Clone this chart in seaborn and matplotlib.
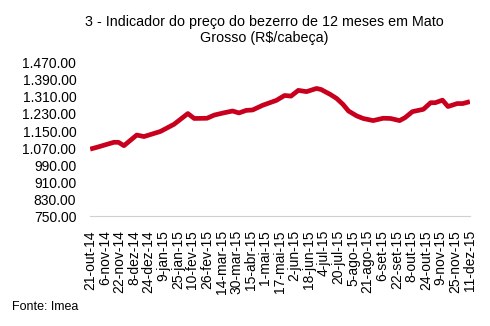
import matplotlib
matplotlib.use("Agg")
import matplotlib.pyplot as plt
import matplotlib.ticker as mticker
import seaborn as sns
import pandas as pd

# Days since 21-out-14 and price (R$/cabeça)
days = [0, 7, 26, 31, 37, 51, 59, 77, 92, 107, 114, 128, 136, 147, 156, 163,
        171, 178, 189, 204, 213, 220, 228, 237, 248, 253, 263, 270, 277, 283,
        292, 299, 310, 321, 329, 339, 345, 353, 365, 373, 378, 386, 392, 402,
        408, 416]
prices = [1065, 1073, 1097, 1097, 1081, 1131, 1124, 1148, 1182, 1232, 1209,
          1210, 1225, 1236, 1244, 1235, 1247, 1249, 1271, 1294, 1317, 1314,
          1341, 1335, 1350, 1345, 1322, 1303, 1275, 1244, 1221, 1209, 1199,
          1210, 1209, 1199, 1213, 1241, 1252, 1283, 1283, 1295, 1265, 1279,
          1279, 1288]

tick_labels = ["21-out-14", "6-nov-14", "22-nov-14", "8-dez-14", "24-dez-14",
               "9-jan-15", "25-jan-15", "10-fev-15", "26-fev-15", "14-mar-15",
               "30-mar-15", "15-abr-15", "1-mai-15", "17-mai-15", "2-jun-15",
               "18-jun-15", "4-jul-15", "20-jul-15", "5-ago-15", "21-ago-15",
               "6-set-15", "22-set-15", "8-out-15", "24-out-15", "9-nov-15",
               "25-nov-15", "11-dez-15"]
tick_step = 16
y_ticks = [750, 830, 910, 990, 1070, 1150, 1230, 1310, 1390, 1470]

title = "3 - Indicador do preço do bezerro de 12 meses em Mato\nGrosso (R$/cabeça)"
source = "Fonte: Imea"

df = pd.DataFrame({"dia": days, "preco": prices})

sns.set_theme(style="white")
plt.rcParams["font.family"] = ["Liberation Sans", "DejaVu Sans"]

fig = plt.figure(figsize=(4.9, 3.26), dpi=100)
ax = fig.add_axes([0.184, 0.337, 0.775, 0.47])

sns.lineplot(data=df, x="dia", y="preco", ax=ax, color="#C8001E",
             linewidth=3.4, solid_capstyle="butt")

ax.set_xlim(0, tick_step * (len(tick_labels) - 1))
ax.set_ylim(y_ticks[0], y_ticks[-1])
ax.set_xticks([i * tick_step for i in range(len(tick_labels))])
ax.set_xticklabels(tick_labels, rotation=90, fontsize=10, color="black")
ax.set_yticks(y_ticks)
ax.yaxis.set_major_formatter(mticker.FuncFormatter(
    lambda v, p: "{:,.2f}".format(v).replace(",", ".")))
ax.tick_params(axis="y", labelsize=10, colors="black", length=0, pad=10)
ax.tick_params(axis="x", direction="out", length=3, width=0.8,
               color="#d0d0d0", pad=7)

for s in ["top", "right", "left"]:
    ax.spines[s].set_visible(False)
ax.spines["bottom"].set_color("#d0d0d0")
ax.spines["bottom"].set_linewidth(0.8)
ax.set_xlabel("")
ax.set_ylabel("")
ax.grid(False)

fig.text(0.54, 0.955, title, ha="center", va="top", fontsize=10.3,
         color="black", linespacing=1.25)
fig.text(0.025, 0.058, source, ha="left", va="center", fontsize=9,
         color="black")

fig.savefig("out.png", dpi=100)
